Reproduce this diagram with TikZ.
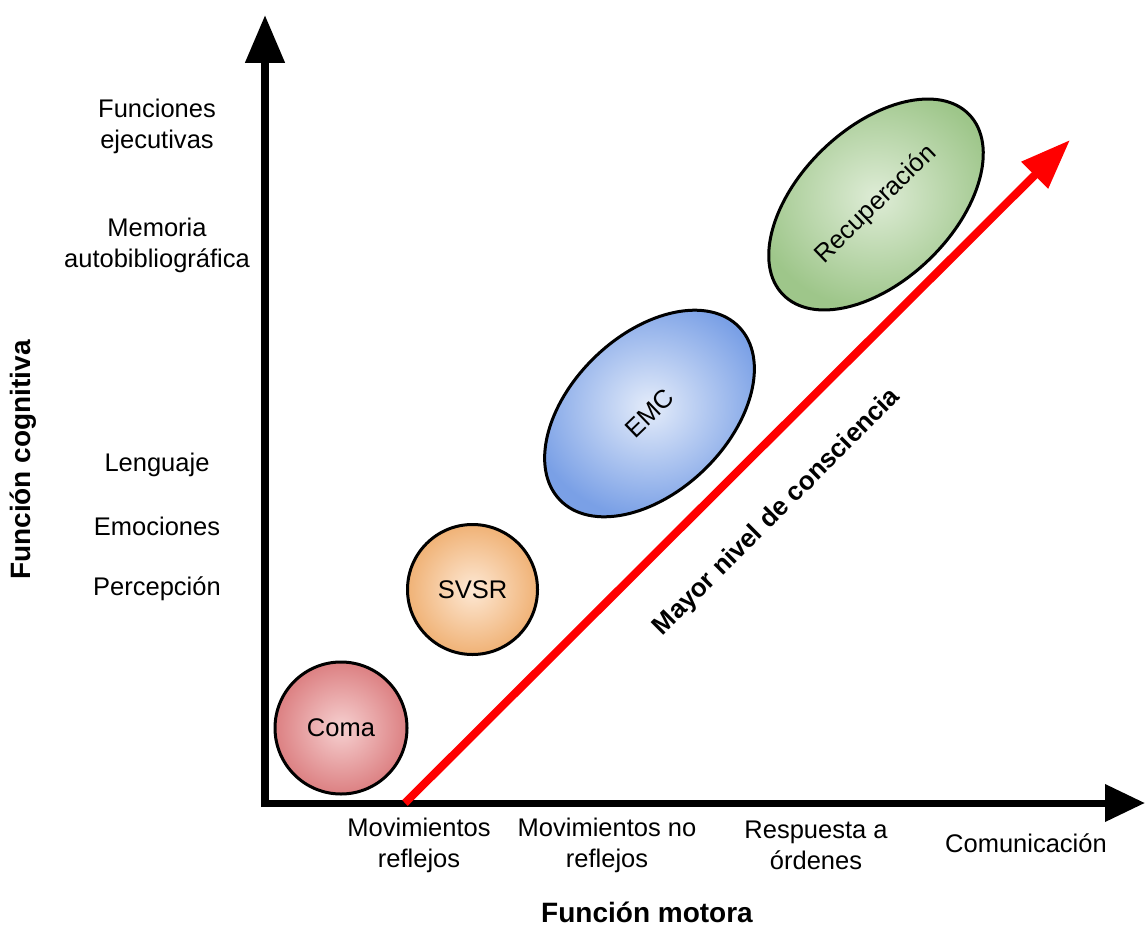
\documentclass[tikz,border=0pt]{standalone}
\usepackage{fontspec}
\setmainfont{Liberation Sans}
\usetikzlibrary{arrows.meta,shapes.geometric}

\definecolor{comain}{RGB}{246,208,208}
\definecolor{comaout}{RGB}{220,128,130}
\definecolor{svsrin}{RGB}{253,232,212}
\definecolor{svsrout}{RGB}{240,178,118}
\definecolor{emcin}{RGB}{228,236,250}
\definecolor{emcout}{RGB}{122,160,230}
\definecolor{recin}{RGB}{222,236,214}
\definecolor{recout}{RGB}{158,198,138}

\begin{document}
\begin{tikzpicture}[x=1pt,y=-1pt,
    every node/.style={font=\fontsize{25.5}{31}\selectfont, align=center, inner sep=0pt},
    titulo/.style={font=\fontsize{28}{34}\selectfont\bfseries},
    estado/.style={draw=black, line width=3pt},
    eje/.style={line width=8pt}]
  \useasboundingbox (0,0) rectangle (1145,928);

  \coordinate (o) at (265,803);
  \coordinate (ybot) at (265,807);
  \coordinate (ytop) at (265,15);
  \coordinate (xizq) at (261,803);
  \coordinate (xder) at (1145,803);
  \coordinate (ini) at (405,803);
  \coordinate (fin) at (1070,140);

  \node[estado, circle, minimum size=132pt, shade, inner color=comain, outer color=comaout, name=coma] at (341,728) {Coma};
  \node[estado, circle, minimum size=130pt, shade, inner color=svsrin, outer color=svsrout, name=svsr] at (472.5,589.5) {SVSR};
  \node[estado, ellipse, rotate=44, minimum width=249pt, minimum height=157pt, shade, inner color=emcin, outer color=emcout, name=emc] at (649.5,413.5) {EMC};
  \node[estado, ellipse, rotate=44, minimum width=259pt, minimum height=153pt, shade, inner color=recin, outer color=recout, name=rec] at (876,204.5) {Recuperación};

  \node[name=fe] at (157,126) {Funciones\\ejecutivas};
  \node[name=mem] at (157,245) {Memoria\\autobibliográfica};
  \node[name=len] at (157,465) {Lenguaje};
  \node[name=emo] at (157,526) {Emociones};
  \node[name=per] at (157,589) {Percepción};

  \node[name=mr] at (419,845) {Movimientos\\reflejos};
  \node[name=mnr] at (607,845) {Movimientos no\\reflejos};
  \node[name=ro] at (816,845) {Respuesta a\\órdenes};
  \node[name=com] at (1026,843) {Comunicación};

  \node[titulo, name=motora] at (647,912) {Función motora};
  \node[titulo, rotate=90, name=cognitiva] at (23,460) {Función cognitiva};
  \node[font=\fontsize{26}{31}\selectfont\bfseries, rotate=45, anchor=base, name=nivel] at (782,517) {Mayor nivel de consciencia};

  \path[eje]
     (ybot) edge[-{Triangle[length=48pt,width=38pt]}] (ytop)
     (xizq) edge[line width=7pt, -{Triangle[length=40pt,width=36pt]}] (xder);
  \draw[red, line width=8pt, -{Triangle[length=50pt,width=36pt]}] (ini) -- (fin);
\end{tikzpicture}
\end{document}
